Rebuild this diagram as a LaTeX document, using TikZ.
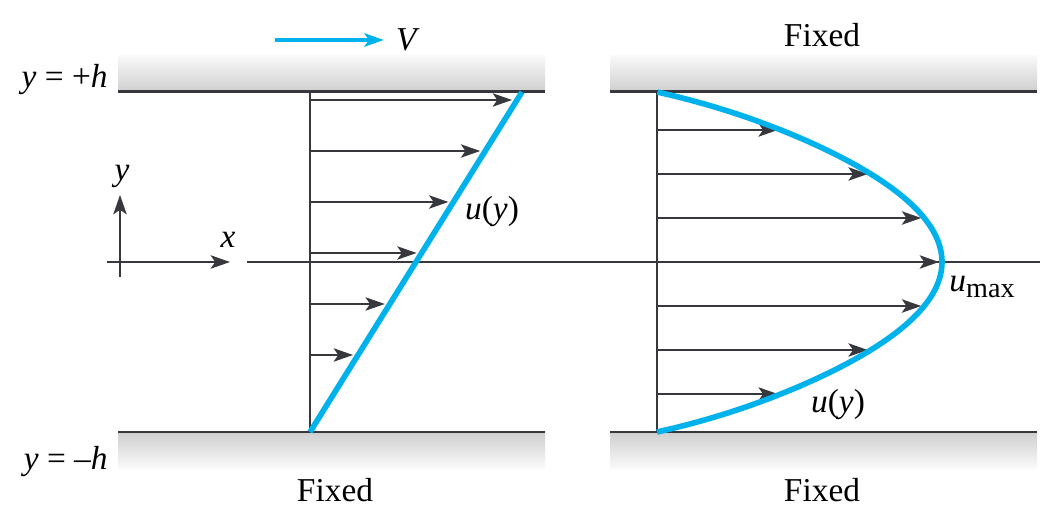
\documentclass[tikz,border=0pt]{standalone}
\usepackage{fontspec}
\setmainfont{Liberation Serif}
\usetikzlibrary{arrows.meta}
\definecolor{flow}{RGB}{0,178,235}
\definecolor{ink}{RGB}{55,55,62}
\begin{document}
\begin{tikzpicture}[>={Stealth[length=5.5pt,width=3.8pt,inset=1.3pt]}, line join=round,
    font=\fontsize{9.5}{11}\selectfont,
    wall/.style={draw=ink, line width=0.85pt},
    thin/.style={draw=ink, line width=0.6pt},
    vel/.style={->, draw=ink, fill=ink, line width=0.55pt},
    prof/.style={draw=flow, line width=1.6pt}]
    \def\h{1.7} \def\pl{0.36} % half gap, plate
    \def\xa{3.10} \def\xb{6.57} \def\um{2.85}
    \def\k{0.92} \def\c{0.191} % profile shape
    \useasboundingbox (0,-2.67) rectangle (10.6,2.62);
    % plates
    \foreach \l/\r in {1.18/5.45, 6.10/10.37}{
        \shade[top color=gray!5, bottom color=gray!38] (\l,\h) rectangle (\r,\h+\pl);
        \shade[top color=gray!38, bottom color=gray!4] (\l,-\h-\pl) rectangle (\r,-\h);
        \draw[wall] (\l,\h) -- (\r,\h);
        \draw[wall] (\l,-\h) -- (\r,-\h);
    }
    % labels
    \node[anchor=east] (ytop) at (1.20,1.82) {\textit{y} = +\textit{h}};
    \node[anchor=east] (ybot) at (1.20,-2.0) {\textit{y} = --\textit{h}};
    \node (fixtr) at (8.22,2.27) {Fixed};
    \node (fixbl) at (3.35,-2.28) {Fixed};
    \node (fixbr) at (8.22,-2.28) {Fixed};
    % moving plate
    \coordinate (vs) at (2.75,2.22);
    \node (V) at (4.08,2.22) {\textit{V}};
    \draw[->, draw=flow, fill=flow, line width=1.2pt] (vs) -- (V.west);
    % axes
    \coordinate (ox) at (1.07,0); \coordinate (oy) at (1.20,-0.15);
    \node (xl) at (2.28,0.22) {\textit{x}};
    \node (yl) at (1.22,0.86) {\textit{y}};
    \draw[->, thin] (ox) -- (2.30,0);
    \draw[->, thin] (oy) -- (1.20,0.67);
    \draw[thin] (2.47,0) -- (10.40,0);
    % Couette
    \draw[thin] (\xa,-\h) -- (\xa,\h);
    \foreach \i in {0,...,5}{
        \pgfmathsetmacro\yy{1.62-0.51*\i}
        \pgfmathsetmacro\xx{\xa+(\yy+\h)*2.12/(2*\h)-0.05}
        \draw[vel] (\xa,\yy) -- (\xx,\yy);
    }
    \draw[prof] (\xa,-\h) -- (\xa+2.12,\h);
    \node (ul) at (4.92,0.50) {\textit{u}(\textit{y})};
    % Poiseuille
    \draw[thin] (\xb,-\h) -- (\xb,\h);
    \foreach \yy in {-1.32,-0.88,-0.44,0,0.44,0.88,1.32}{
        \pgfmathsetmacro\xx{\xb+\um-\k*\yy*\yy-\c*(abs(\yy)/\h+0.0001)^12-0.03}
        \draw[vel] (\xb,\yy) -- (\xx,\yy);
    }
    \draw[prof, smooth, samples=91, domain=-\h:\h, variable=\t]
        plot ({\xb+\um-\k*\t*\t-\c*(abs(\t)/\h+0.0001)^12},\t);
    \node (ur) at (8.38,-1.43) {\textit{u}(\textit{y})};
    \node (umax) at (9.82,-0.25) {\textit{u}\raisebox{-0.35ex}{\fontsize{8}{9}\selectfont max}};
\end{tikzpicture}
\end{document}
